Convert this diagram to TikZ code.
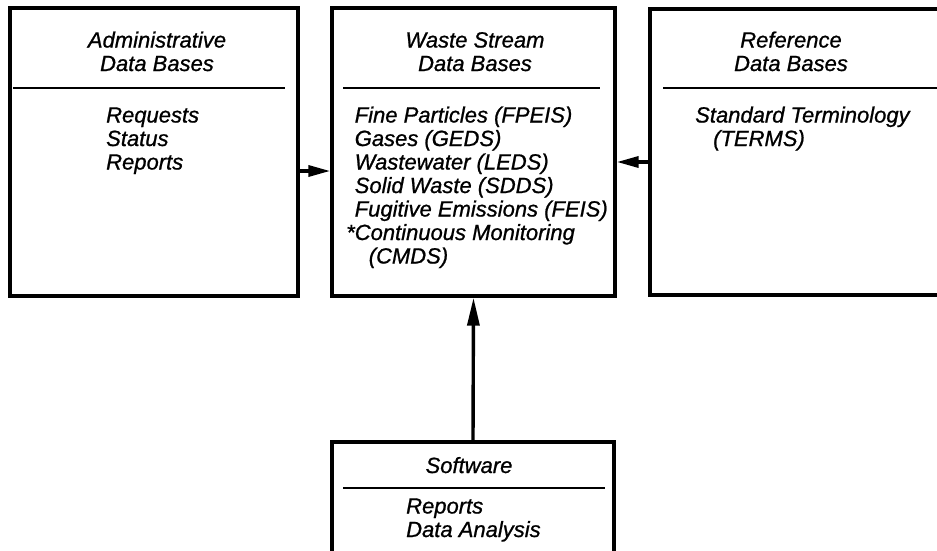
\documentclass[tikz,border=0pt]{standalone}
\usepackage{fontspec}
\setmainfont{Liberation Sans}
\newfontfamily\diagfont[FakeBold=0.9]{Liberation Sans Italic}
\usepackage{tikz}
\usetikzlibrary{arrows.meta}

\begin{document}
\begin{tikzpicture}[x=1pt,y=-1pt,
                box/.style={rectangle, draw, line width=3.4pt, inner sep=0pt},
                sep/.style={line width=2.2pt},
                txt/.style={font=\diagfont\fontsize{22}{23.5}\selectfont, inner sep=0pt},
                link/.style={line width=3.4pt, -{Triangle[length=22pt,width=11pt]}}]
                \useasboundingbox (0,0) rectangle (937,551);
                \clip (0,0) rectangle (937,551);
                \node [box, minimum width=288pt, minimum height=288pt] (admin) at (154,152) {};
                \node [box, minimum width=283pt, minimum height=288pt] (waste) at (473.5,152) {};
                \node [box, minimum width=295pt, minimum height=286pt] (refer) at (797.5,152) {};
                \node [box, minimum width=282pt, minimum height=158pt] (soft) at (473,521) {};
                \draw [sep] (13,88) -- (285,88);
                \draw [sep] (343,88) -- (600,88);
                \draw [sep] (663,88) -- (937,88);
                \draw [sep] (343,488) -- (605,488);
                \node [txt, align=center, anchor=base] (admintitle) at (157,71) {Administrative\\Data Bases};
                \node [txt, align=center, anchor=base] (wastetitle) at (475,71) {Waste Stream\\Data Bases};
                \node [txt, align=center, anchor=base] (refertitle) at (791,71) {Reference\\Data Bases};
                \node [txt, align=center, anchor=base] (softtitle) at (469,473) {Software};
                \node [txt, align=left, anchor=base west] (adminitems) at (106,169.5) {Requests\\Status\\Reports};
                \node [txt, align=left, anchor=base west] (wasteitems) at (346,263.5)
                    {\hphantom{*}Fine Particles (FPEIS)\\\hphantom{*}Gases (GEDS)\\\hphantom{*}Wastewater (LEDS)\\
                     \hphantom{*}Solid Waste (SDDS)\\\hphantom{*}Fugitive Emissions (FEIS)\\*Continuous Monitoring\\
                     \hphantom{*}\hspace*{14pt}(CMDS)};
                \node [txt, align=left, anchor=base west] (referitems) at (695,146) {Standard Terminology\\\hspace*{18pt}(TERMS)};
                \node [txt, align=left, anchor=base west] (softitems) at (406,537) {Reports\\Data Analysis};
                \draw [link] (admin.east |- 0,171) -- (waste.west |- 0,171);
                \draw [link] (refer.west |- 0,162) -- (waste.east |- 0,162);
                \draw [link, -{Triangle[length=28pt,width=12pt]}] (soft.north) -- (waste.south);
        \end{tikzpicture}
\end{document}
